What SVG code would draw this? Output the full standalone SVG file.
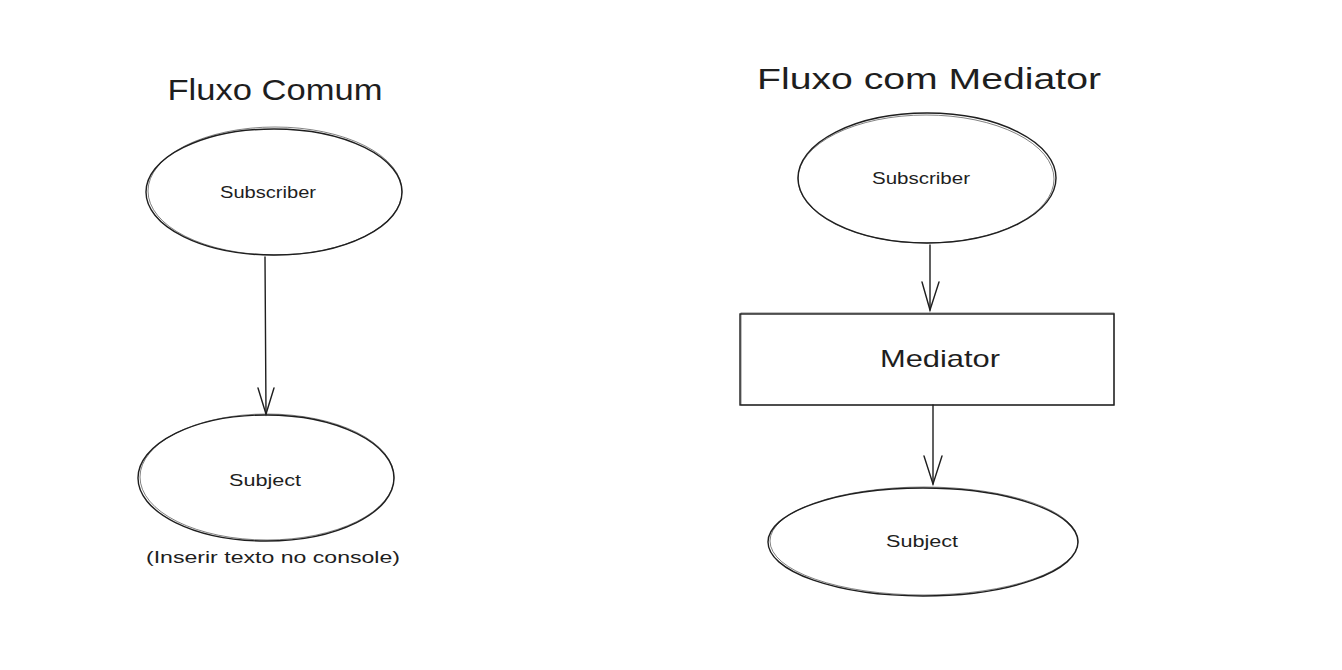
<svg xmlns="http://www.w3.org/2000/svg" width="1342" height="670" viewBox="0 0 1342 670">
<style>
.shape{fill:none;stroke:#1e1e1e;stroke-width:1.4}
.sk{fill:none;stroke:#1e1e1e;stroke-width:0.8;opacity:0.7}
.t{font-family:"Liberation Sans",Arial,sans-serif;fill:#1e1e1e;text-anchor:middle}
.edge{fill:none;stroke:#1e1e1e;stroke-width:1.4;stroke-linecap:round}
</style>
<rect width="1342" height="670" fill="#ffffff"/>
<g id="title-left"><text class="t" x="275" y="100" font-size="30" textLength="215" lengthAdjust="spacingAndGlyphs">Fluxo Comum</text></g>
<g id="title-right"><text class="t" x="929" y="89" font-size="30" textLength="344" lengthAdjust="spacingAndGlyphs">Fluxo com Mediator</text></g>
<g id="left-subscriber">
<ellipse class="shape" cx="274" cy="192" rx="128" ry="63"/>
<ellipse class="sk" cx="275" cy="191" rx="127" ry="64"/>
<text class="t" x="268" y="198" font-size="16" textLength="96" lengthAdjust="spacingAndGlyphs">Subscriber</text>
</g>
<g id="left-subject">
<ellipse class="shape" cx="266" cy="478" rx="128" ry="63"/>
<ellipse class="sk" cx="267" cy="477" rx="127" ry="63"/>
<text class="t" x="265" y="486" font-size="16" textLength="72" lengthAdjust="spacingAndGlyphs">Subject</text>
</g>
<g id="left-caption"><text class="t" x="273" y="563" font-size="17" textLength="254" lengthAdjust="spacingAndGlyphs">(Inserir texto no console)</text></g>
<g id="right-subscriber">
<ellipse class="shape" cx="927" cy="178" rx="129" ry="65"/>
<ellipse class="sk" cx="926" cy="179" rx="128" ry="64"/>
<text class="t" x="921" y="184" font-size="16" textLength="98" lengthAdjust="spacingAndGlyphs">Subscriber</text>
</g>
<g id="right-mediator">
<rect class="shape" x="740" y="314" width="374" height="91"/>
<rect class="sk" x="741" y="313" width="373" height="92"/>
<text class="t" x="940" y="367" font-size="24" textLength="120" lengthAdjust="spacingAndGlyphs">Mediator</text>
</g>
<g id="right-subject">
<ellipse class="shape" cx="923" cy="542" rx="155" ry="54"/>
<ellipse class="sk" cx="924" cy="541" rx="154" ry="54"/>
<text class="t" x="922" y="547" font-size="16" textLength="72" lengthAdjust="spacingAndGlyphs">Subject</text>
</g>
<g id="connectors">
<path class="edge" d="M265 257 L266 414"/>
<path class="edge" d="M258 388 L266 414 L274 388"/>
<path class="edge" d="M930 245 L930 310"/>
<path class="edge" d="M922 282 L930 310 L939 282"/>
<path class="edge" d="M933 405 L933 484"/>
<path class="edge" d="M924 456 L933 484 L942 456"/>
</g>
</svg>
